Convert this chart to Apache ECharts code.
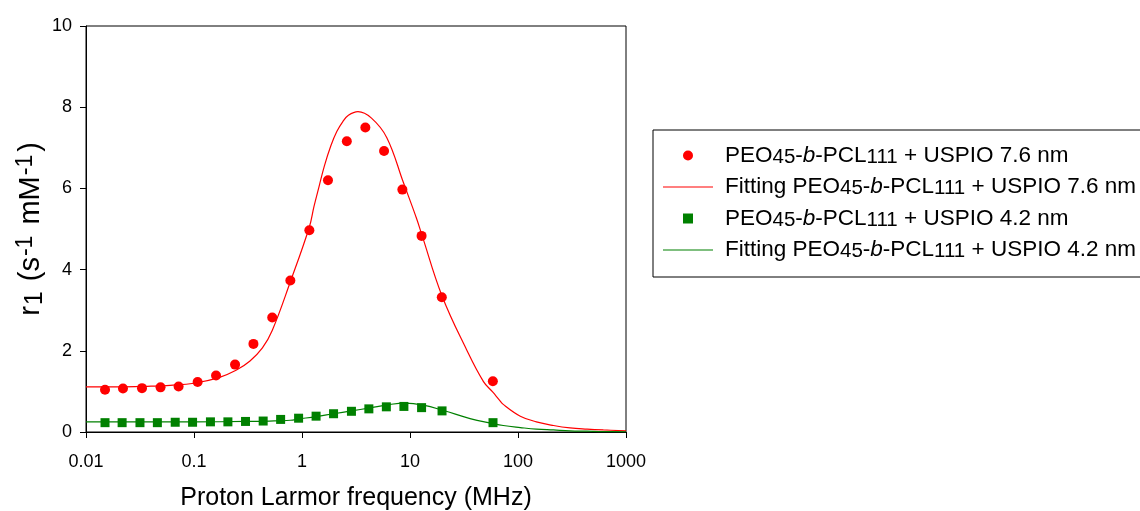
<!DOCTYPE html>
<html>
<head>
<meta charset="utf-8">
<script src="https://cdn.jsdelivr.net/npm/echarts@6/dist/echarts.min.js"></script>
<style>html,body{margin:0;padding:0;background:#fff;}#c{width:1140px;height:511px;}</style>
</head>
<body>
<div id="c"></div>
<script>
// ---- data ----
const xTicks = [0.01, 0.1, 1, 10, 100, 1000];
const yTicks = [0, 2, 4, 6, 8, 10];

const redFreq = [0.015,0.022,0.033,0.049,0.072,0.108,0.16,0.24,0.355,0.53,0.78,1.17,1.74,2.6,3.86,5.75,8.5,12.8,19.7,58.5];
const redR1   = [1.04,1.07,1.08,1.10,1.12,1.23,1.39,1.66,2.17,2.82,3.73,4.97,6.2,7.16,7.5,6.92,5.97,4.83,3.32,1.25];

const redFitFreq = [0.01,0.02,0.04,0.06,0.1,0.17,0.245,0.33,0.43,0.53,0.78,1.17,1.29,1.44,1.61,1.85,2.1,2.38,2.69,3.3,4.4,6.1,8.67,11.5,12.8,19.8,33.5,47.9,58.5,66.7,73,105,148,213,303,436,617,1000];
const redFitR1   = [1.11,1.11,1.13,1.15,1.2,1.34,1.52,1.75,2.07,2.5,3.7,5.05,5.55,6.05,6.55,7.05,7.4,7.64,7.8,7.89,7.73,7.25,6.15,5.26,4.88,3.35,2.02,1.24,0.98,0.8,0.68,0.39,0.25,0.16,0.1,0.07,0.05,0.03];

const greenFreq = [0.015,0.0216,0.0316,0.0458,0.067,0.097,0.142,0.206,0.3,0.437,0.634,0.93,1.35,1.96,2.87,4.16,6.04,8.78,12.8,19.8,58.7];
const greenR1   = [0.23,0.23,0.23,0.23,0.24,0.24,0.25,0.25,0.26,0.27,0.31,0.34,0.39,0.45,0.51,0.57,0.62,0.63,0.60,0.52,0.23];

const greenFitFreq = [0.01,0.1,0.3,0.5,0.78,0.93,1.35,1.96,2.87,4.16,6.6,9,13.3,20.4,36,58,73,105,148,213,303,436,617,1000];
const greenFitR1   = [0.25,0.25,0.26,0.27,0.29,0.32,0.38,0.45,0.52,0.59,0.68,0.71,0.66,0.53,0.33,0.21,0.16,0.11,0.07,0.05,0.03,0.02,0.01,0.005];

const seriesNames = [
  'PEO45-b-PCL111 + USPIO 7.6 nm',
  'Fitting PEO45-b-PCL111 + USPIO 7.6 nm',
  'PEO45-b-PCL111 + USPIO 4.2 nm',
  'Fitting PEO45-b-PCL111 + USPIO 4.2 nm'
];
const legendRich = {
  'PEO45-b-PCL111 + USPIO 7.6 nm': '{t|PEO}{s|45}{t|-}{i|b}{t|-PCL}{s|111}{t| + USPIO 7.6 nm}',
  'Fitting PEO45-b-PCL111 + USPIO 7.6 nm': '{t|Fitting PEO}{s|45}{t|-}{i|b}{t|-PCL}{s|111}{t| + USPIO 7.6 nm}',
  'PEO45-b-PCL111 + USPIO 4.2 nm': '{t|PEO}{s|45}{t|-}{i|b}{t|-PCL}{s|111}{t| + USPIO 4.2 nm}',
  'Fitting PEO45-b-PCL111 + USPIO 4.2 nm': '{t|Fitting PEO}{s|45}{t|-}{i|b}{t|-PCL}{s|111}{t| + USPIO 4.2 nm}'
};

const zip = (a, b) => a.map((v, i) => [v, b[i]]);
const FF = '"Liberation Sans", Arial, Helvetica, sans-serif';
const lineIcon = 'path://M0,0L50,0L50,1.2L0,1.2Z';
const squareIcon = 'path://M0,0L9,0L9,9L0,9Z';

const chart = echarts.init(document.getElementById('c'), null, {renderer: 'canvas'});
chart.setOption({
  animation: false,
  backgroundColor: '#fff',
  textStyle: {fontFamily: FF, color: '#000'},
  grid: {left: 86, right: 514, top: 26, bottom: 79, containLabel: false, outerBoundsMode: 'none',
    show: true, borderColor: '#000', borderWidth: 1, backgroundColor: 'transparent'},
  xAxis: {
    type: 'log', logBase: 10, min: xTicks[0], max: xTicks[xTicks.length - 1],
    name: 'Proton Larmor frequency (MHz)', nameLocation: 'middle', nameGap: 54,
    nameTextStyle: {fontSize: 25, fontFamily: FF, color: '#000'},
    axisLine: {show: true, onZero: false, lineStyle: {color: '#000', width: 1}},
    axisTick: {show: true, inside: false, length: 6, lineStyle: {color: '#000'}},
    minorTick: {show: false},
    splitLine: {show: false},
    axisLabel: {fontSize: 18, fontFamily: FF, color: '#000', margin: 21,
      formatter: v => { const t = xTicks.find(k => Math.abs(Math.log10(k) - Math.log10(v)) < 1e-6); return t !== undefined ? String(t) : ''; }}
  },
  yAxis: {
    type: 'value', min: yTicks[0], max: yTicks[yTicks.length - 1], interval: 2,
    name: '{b|r}{sub|1}{b| (s}{sup|-1}{b| mM}{sup|-1}{b|)}', nameLocation: 'middle', nameGap: 34, nameRotate: 90,
    nameTextStyle: {fontSize: 29, fontFamily: FF, color: '#000',
      rich: {
        b: {fontSize: 29, fontFamily: FF, color: '#000', lineHeight: 34},
        sub: {fontSize: 25, fontFamily: FF, color: '#000', lineHeight: 20, verticalAlign: 'bottom', padding: [0, 2, 0, 1]},
        sup: {fontSize: 23, fontFamily: FF, color: '#000', lineHeight: 16, verticalAlign: 'top', padding: [0, 3, 0, 1]}
      }},
    axisLine: {show: true, lineStyle: {color: '#000', width: 1}},
    axisTick: {show: true, inside: false, length: 6, lineStyle: {color: '#000'}},
    splitLine: {show: false},
    axisLabel: {fontSize: 18, fontFamily: FF, color: '#000', margin: 14}
  },
  legend: {
    orient: 'vertical', left: 653, top: 130,
    data: [
      {name: seriesNames[0], icon: 'circle'},
      {name: seriesNames[1], icon: lineIcon},
      {name: seriesNames[2], icon: squareIcon},
      {name: seriesNames[3], icon: lineIcon}
    ],
    itemWidth: 50, itemHeight: 10, itemGap: 8,
    padding: [14, 20, 15, 10],
    borderColor: '#000', borderWidth: 1,
    selectedMode: false,
    formatter: n => legendRich[n],
    textStyle: {fontFamily: FF, fontSize: 22.5, color: '#000', padding: [0, 0, 0, 7],
      rich: {
        t: {fontSize: 22.5, fontFamily: FF, color: '#000', lineHeight: 24},
        i: {fontSize: 22.5, fontFamily: FF, fontStyle: 'italic', color: '#000', lineHeight: 24},
        s: {fontSize: 20.5, fontFamily: FF, color: '#000', lineHeight: 14, verticalAlign: 'bottom'}
      }}
  },
  series: [
    {name: seriesNames[0], type: 'scatter', data: zip(redFreq, redR1), symbol: 'circle', symbolSize: 10,
      itemStyle: {color: '#ff0000', opacity: 1}, z: 5},
    {name: seriesNames[1], type: 'line', data: zip(redFitFreq, redFitR1), symbol: 'none', showSymbol: false, smooth: 0.4,
      lineStyle: {color: '#ff0000', width: 1.2}, itemStyle: {color: '#ff0000'}, z: 3},
    {name: seriesNames[2], type: 'scatter', data: zip(greenFreq, greenR1), symbol: 'rect', symbolSize: 9,
      itemStyle: {color: '#008000', opacity: 1}, z: 5},
    {name: seriesNames[3], type: 'line', data: zip(greenFitFreq, greenFitR1), symbol: 'none', showSymbol: false, smooth: 0.4,
      lineStyle: {color: '#008000', width: 1.2}, itemStyle: {color: '#008000'}, z: 3}
  ]
});
</script>
</body>
</html>
